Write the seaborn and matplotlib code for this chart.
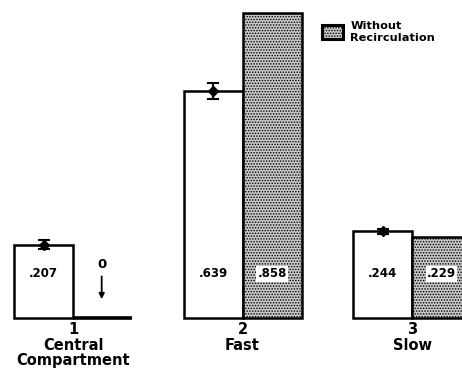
import matplotlib
matplotlib.use("Agg")
import matplotlib.pyplot as plt
import seaborn as sns
import pandas as pd
from matplotlib.patches import Patch

groups = ["1\nCentral\nCompartment", "2\nFast", "3\nSlow"]
with_recirc = [0.207, 0.639, 0.244]
without_recirc = [0.0, 0.858, 0.229]
errors = [0.012, 0.022, 0.008]
series = ["With Recirculation", "Without Recirculation"]

df = pd.DataFrame({
    "group": groups * 2,
    "value": with_recirc + without_recirc,
    "series": [series[0]] * 3 + [series[1]] * 3,
})

sns.set_style("white")
plt.rcParams["font.family"] = ["DejaVu Sans"]
plt.rcParams["text.color"] = "black"
plt.rcParams["xtick.color"] = "black"
plt.rcParams["hatch.linewidth"] = 0.7
plt.rcParams["hatch.color"] = "#333333"

fig = plt.figure(figsize=(4.62, 3.75), dpi=100)
ax = fig.add_axes([0, 57 / 375, 1, 318 / 375])

sns.barplot(data=df, x="group", y="value", hue="series", order=groups,
            hue_order=series, width=0.696, palette=["white", "#c8c8c8"],
            edgecolor="black", linewidth=1.8, ax=ax, legend=False)

patches = [p for p in ax.patches]
for p in patches:
    p.set_clip_on(False)
for p in patches[3:]:
    p.set_hatch("......")
    p.set_edgecolor("black")
patches[3].set_linewidth(2.6)

ax.set_xlim(-0.431, 2.295)
ax.set_ylim(0, 318 / 355)
for s in ax.spines.values():
    s.set_visible(False)
ax.set_yticks([])
ax.set_xlabel("")
ax.set_ylabel("")
ax.tick_params(axis="x", length=0, pad=3)
for lbl in ax.get_xticklabels():
    lbl.set_fontweight("bold")
    lbl.set_fontsize(10.5)
    lbl.set_linespacing(1.05)

label_y = 0.124
for i, p in enumerate(patches[:3]):
    cx = p.get_x() + p.get_width() / 2
    ax.errorbar(cx, with_recirc[i], yerr=errors[i], fmt="D", color="black",
                markersize=5, capsize=4, elinewidth=1.5, capthick=1.5)
    ax.text(cx, label_y, f"{with_recirc[i]:.3f}"[1:], ha="center", va="center",
            fontsize=8.5, fontweight="bold")

for i, p in enumerate(patches[3:]):
    cx = p.get_x() + p.get_width() / 2
    if without_recirc[i] > 0:
        ax.text(cx, label_y, f"{without_recirc[i]:.3f}"[1:], ha="center", va="center",
                fontsize=8.5, fontweight="bold",
                bbox=dict(boxstyle="square,pad=0.1", facecolor="white", edgecolor="none"))
    else:
        ax.text(cx - 0.005, 0.15, "0", ha="center", va="center", fontsize=9.5,
                fontweight="bold")
        ax.annotate("", xy=(cx - 0.005, 0.045), xytext=(cx - 0.005, 0.125),
                    arrowprops=dict(arrowstyle="-|>", color="black", lw=1.3,
                                    mutation_scale=8))

handle = Patch(facecolor="#c8c8c8", edgecolor="black", hatch="......", linewidth=2.2)
leg = ax.legend(handles=[handle], labels=["Without\nRecirculation"],
                loc="upper left", bbox_to_anchor=(322 / 462, 1 - 21 / 318),
                frameon=False, handlelength=1.8, handleheight=1.5,
                handletextpad=0.7, borderaxespad=0, borderpad=0,
                prop={"weight": "bold", "size": 8.2})

fig.savefig("out.png", dpi=100)
